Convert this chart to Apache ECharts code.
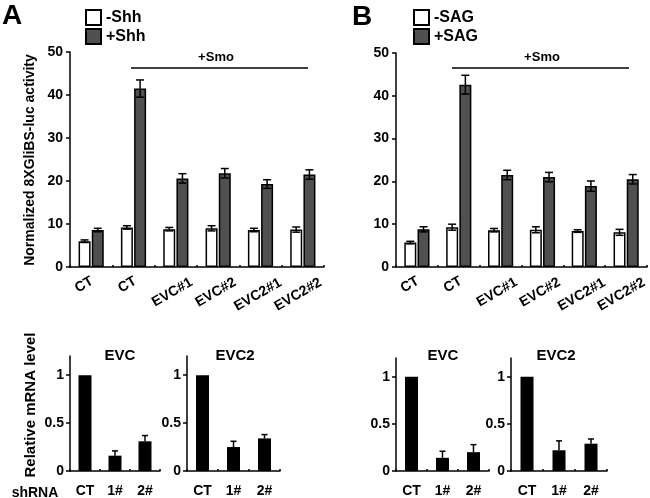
<!DOCTYPE html>
<html><head><meta charset="utf-8">
<script src="https://cdn.jsdelivr.net/npm/echarts@6/dist/echarts.min.js"></script>
<style>html,body{margin:0;padding:0;background:#fff}#c{width:650px;height:498px}</style>
</head><body><div id="c"></div>
<script>
// ---------- data ----------
const topCategories = ['CT', 'CT', 'EVC#1', 'EVC#2', 'EVC2#1', 'EVC2#2'];
const topTicks = [0, 10, 20, 30, 40, 50];

const shhMinus    = [6.0, 9.2, 8.8, 9.0, 8.6, 8.7];
const shhMinusErr = [0.3, 0.4, 0.4, 0.6, 0.4, 0.6];
const shhPlus     = [8.6, 41.5, 20.6, 21.8, 19.3, 21.5];
const shhPlusErr  = [0.4, 2.0, 1.1, 1.1, 1.0, 1.1];

const sagMinus    = [5.7, 9.3, 8.6, 8.7, 8.4, 8.1];
const sagMinusErr = [0.3, 0.7, 0.4, 0.7, 0.3, 0.7];
const sagPlus     = [8.8, 42.6, 21.5, 21.0, 18.9, 20.5];
const sagPlusErr  = [0.6, 2.2, 1.1, 1.1, 1.2, 1.1];

const qpcrCategories = ['CT', '1#', '2#'];
const qpcrTicks = [0, 0.5, 1];
const evcA     = [1, 0.16, 0.31];
const evcAErr  = [0, 0.05, 0.06];
const evc2A    = [1, 0.25, 0.34];
const evc2AErr = [0, 0.06, 0.04];
const evcB     = [1, 0.14, 0.20];
const evcBErr  = [0, 0.07, 0.08];
const evc2B    = [1, 0.22, 0.29];
const evc2BErr = [0, 0.10, 0.05];

// ---------- styles ----------
const FONT = "'Liberation Sans', Arial, sans-serif";
const BLACK = '#000';
const DARK = '#505050';
const LW = 1.5;
const TOP_BAR_W = 12;
const TOP_GAP = '10%';
const TOP_OFF = (TOP_BAR_W + TOP_BAR_W * 0.1) / 2;
const Q_BAR_W = 13;
// horizontal screen shift (px) of each rotated tick label past its tick
const LABEL_SHIFT = [1, 2, 15, 16, 19, 17];

const chart = echarts.init(document.getElementById('c'), null, {renderer: 'canvas'});

function zip(vals, errs) { return vals.map((v, i) => [i, v, errs[i]]); }

function errRender(offset, both, cap) {
  return function (params, api) {
    const i = api.value(0), v = api.value(1), e = api.value(2);
    if (!e) return null;
    const top = api.coord([i, v + e]);
    const bot = api.coord([i, both ? v - e : v]);
    const x = top[0] + offset;
    const style = {stroke: BLACK, lineWidth: LW};
    const ch = [
      {type: 'line', shape: {x1: x, y1: top[1], x2: x, y2: bot[1]}, style},
      {type: 'line', shape: {x1: x - cap, y1: top[1], x2: x + cap, y2: top[1]}, style}
    ];
    if (both) ch.push({type: 'line', shape: {x1: x - cap, y1: bot[1], x2: x + cap, y2: bot[1]}, style});
    return {type: 'group', children: ch};
  };
}

const grids = [
  {left: 70, top: 52, width: 254, height: 215},
  {left: 396, top: 53, width: 252, height: 214},
  {left: 70, top: 356, width: 90, height: 117},
  {left: 187, top: 356, width: 93, height: 117},
  {left: 396, top: 358, width: 93, height: 116},
  {left: 511, top: 358, width: 96, height: 116}
];

const labelRich = {};
LABEL_SHIFT.forEach((s, i) => {
  labelRich['l' + i] = {padding: [1.2 * s, -0.866 * s, 0, 0], color: BLACK, fontFamily: FONT, fontWeight: 'bold', fontSize: 14};
});

function xAxisTop(gi) {
  return {
    type: 'category', gridIndex: gi, data: topCategories,
    axisLine: {lineStyle: {color: BLACK, width: LW}},
    axisTick: {show: true, inside: true, length: 2, interval: 0, lineStyle: {color: BLACK, width: LW}},
    axisLabel: {interval: 0, rotate: 30, margin: 13, color: BLACK, fontFamily: FONT, fontWeight: 'bold', fontSize: 14,
      formatter: (v, i) => '{l' + i + '|' + v + '}', rich: labelRich}
  };
}
function yAxisTop(gi) {
  return {
    type: 'value', gridIndex: gi, min: 0, max: 50, interval: 10,
    splitLine: {show: false},
    axisLine: {show: true, lineStyle: {color: BLACK, width: LW}},
    axisTick: {show: true, length: 4, lineStyle: {color: BLACK, width: LW}},
    axisLabel: {margin: 7, color: BLACK, fontFamily: FONT, fontWeight: 'bold', fontSize: 14,
      formatter: v => topTicks.includes(v) ? String(v) : ''}
  };
}
function xAxisQ(gi) {
  return {
    type: 'category', gridIndex: gi, data: qpcrCategories,
    axisLine: {lineStyle: {color: BLACK, width: LW}},
    axisTick: {show: true, inside: true, length: 2, interval: 0, lineStyle: {color: BLACK, width: LW}},
    axisLabel: {interval: 0, margin: 13, color: BLACK, fontFamily: FONT, fontWeight: 'bold', fontSize: 14}
  };
}
function yAxisQ(gi) {
  return {
    type: 'value', gridIndex: gi, min: 0, max: 1.2, interval: 0.5,
    splitLine: {show: false},
    axisLine: {show: true, lineStyle: {color: BLACK, width: LW}},
    axisTick: {show: true, length: 4, customValues: qpcrTicks, lineStyle: {color: BLACK, width: LW}},
    axisLabel: {margin: 6, customValues: qpcrTicks, color: BLACK, fontFamily: FONT, fontWeight: 'bold', fontSize: 14,
      formatter: v => qpcrTicks.includes(v) ? String(v) : ''}
  };
}

function barTop(name, data, gi, fill) {
  return {
    type: 'bar', name, data, xAxisIndex: gi, yAxisIndex: gi,
    barWidth: TOP_BAR_W, barGap: TOP_GAP,
    itemStyle: {color: fill, borderColor: BLACK, borderWidth: LW}
  };
}
function errTop(vals, errs, gi, off) {
  return {
    type: 'custom', xAxisIndex: gi, yAxisIndex: gi, z: 5, silent: true,
    data: zip(vals, errs), renderItem: errRender(off, true, 4)
  };
}
function barQ(data, gi) {
  return {
    type: 'bar', data, xAxisIndex: gi, yAxisIndex: gi, barWidth: Q_BAR_W,
    itemStyle: {color: BLACK}
  };
}
function errQ(vals, errs, gi) {
  return {
    type: 'custom', xAxisIndex: gi, yAxisIndex: gi, z: 5, silent: true,
    data: zip(vals, errs), renderItem: errRender(0, false, 3)
  };
}

function legendItem(name, left, top) {
  return {
    data: [name], left, top, padding: 0, itemWidth: 15, itemHeight: 15, icon: 'rect',
    selectedMode: false,
    textStyle: {fontFamily: FONT, fontWeight: 'bold', fontSize: 16, color: BLACK}
  };
}

const txt = (x, y, text, size, extra) => Object.assign({
  type: 'text', x, y,
  style: {text, fill: BLACK, font: 'bold ' + size + 'px ' + FONT, align: 'center', verticalAlign: 'middle'}
}, extra || {});

chart.setOption({
  animation: false,
  backgroundColor: '#fff',
  grid: grids,
  xAxis: [xAxisTop(0), xAxisTop(1), xAxisQ(2), xAxisQ(3), xAxisQ(4), xAxisQ(5)],
  yAxis: [yAxisTop(0), yAxisTop(1), yAxisQ(2), yAxisQ(3), yAxisQ(4), yAxisQ(5)],
  legend: [
    legendItem('-Shh', 85, 9), legendItem('+Shh', 85, 28),
    legendItem('-SAG', 413, 9), legendItem('+SAG', 413, 28)
  ],
  series: [
    barTop('-Shh', shhMinus, 0, '#fff'),
    barTop('+Shh', shhPlus, 0, DARK),
    errTop(shhMinus, shhMinusErr, 0, -TOP_OFF),
    errTop(shhPlus, shhPlusErr, 0, TOP_OFF),
    barTop('-SAG', sagMinus, 1, '#fff'),
    barTop('+SAG', sagPlus, 1, DARK),
    errTop(sagMinus, sagMinusErr, 1, -TOP_OFF),
    errTop(sagPlus, sagPlusErr, 1, TOP_OFF),
    barQ(evcA, 2), errQ(evcA, evcAErr, 2),
    barQ(evc2A, 3), errQ(evc2A, evc2AErr, 3),
    barQ(evcB, 4), errQ(evcB, evcBErr, 4),
    barQ(evc2B, 5), errQ(evc2B, evc2BErr, 5)
  ],
  graphic: [
    txt(12, 16, 'A', 28),
    txt(362, 17, 'B', 28),
    {type: 'line', shape: {x1: 131, y1: 68, x2: 308, y2: 68}, style: {stroke: BLACK, lineWidth: LW}},
    txt(216, 57, '+Smo', 13),
    {type: 'line', shape: {x1: 452, y1: 68, x2: 629, y2: 68}, style: {stroke: BLACK, lineWidth: LW}},
    txt(542, 57, '+Smo', 13),
    txt(30, 160, 'Normalized 8XGliBS-luc activity', 14, {rotation: Math.PI / 2}),
    txt(31, 405, 'Relative mRNA level', 15, {rotation: Math.PI / 2}),
    txt(120, 356, 'EVC', 15),
    txt(235, 356, 'EVC2', 15),
    txt(443, 356, 'EVC', 15),
    txt(556, 356, 'EVC2', 15),
    txt(35, 493, 'shRNA', 14)
  ]
});
</script></body></html>
